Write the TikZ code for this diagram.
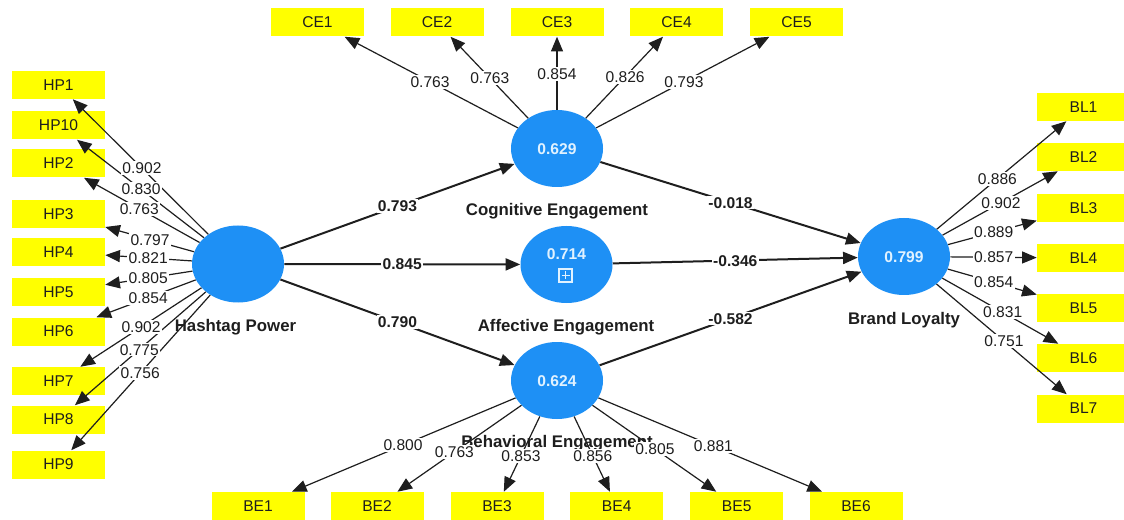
\documentclass[tikz,border=0pt]{standalone}
\usepackage{fontspec}
\setmainfont{Liberation Sans}
\usetikzlibrary{arrows.meta,shapes.geometric}
\definecolor{lvblue}{RGB}{30,144,245}
\definecolor{lvtext}{RGB}{225,242,255}
\definecolor{indyel}{RGB}{255,255,0}
\definecolor{txt}{RGB}{30,30,30}
\begin{document}
\begin{tikzpicture}[x=0.75pt,y=-0.75pt,
  lv/.style={ellipse, fill=lvblue, minimum width=69pt, minimum height=57.75pt, inner sep=0pt},
  lvval/.style={text=lvtext, inner sep=0pt, font=\fontsize{11.7}{14}\selectfont\bfseries, text height=8.4pt, text depth=0pt},
  ind/.style={rectangle, fill=indyel, minimum width=69.75pt, minimum height=21pt, inner sep=0pt, text=txt, font=\fontsize{11.7}{14}\selectfont},
  lvname/.style={font=\fontsize{12.6}{15}\selectfont\bfseries, text=txt, inner sep=0pt, text height=9pt, text depth=0pt},
  ldarrow/.style={draw=txt, line width=0.9pt, -{Triangle[length=11pt,width=9pt]}},
  sparrow/.style={draw=txt, line width=1.5pt, -{Triangle[length=11pt,width=9pt]}},
  wl/.style={fill=white, inner sep=1pt, text=txt, font=\fontsize{11.7}{14}\selectfont, text height=8.4pt, text depth=0pt},
  wp/.style={wl, font=\fontsize{11.7}{14}\selectfont\bfseries},
]
\useasboundingbox (0,0) rectangle (1124,520);
\fill[white] (0,0) rectangle (1124,520);

% latent variables
\node[lv] (hp) at (238,264) {};
\node[lv] (ce) at (557,148.5) {};
\node[lv] (ae) at (566.5,264.5) {};
\node[lv] (be) at (557,380.5) {};
\node[lv] (bl) at (904,256.5) {};
\node[lvval] (ceval) at (557,149) {0.629};
\node[lvval] (aeval) at (566.5,254) {0.714};
\node[lvval] (beval) at (557,381) {0.624};
\node[lvval] (blval) at (904,257) {0.799};
\draw[lvtext, line width=0.8pt] (559,269) rectangle (572,282);
\draw[lvtext, line width=0.8pt] (565.5,271.5) -- (565.5,279.5) (561.5,275.5) -- (569.5,275.5);

% latent names
\node[lvname] (hpname) at (235.5,325.7) {Hashtag Power};
\node[lvname] (blname) at (904,319) {Brand Loyalty};
\node[lvname] (cename) at (557,210) {Cognitive Engagement};
\node[lvname] (aename) at (566,325.5) {Affective Engagement};
\node[lvname] (bename) at (557,441) {Behavioral Engagement};

% indicators
\foreach \n/\y in {1/85,10/125.5,2/163.5,3/214,4/252,5/292,6/331.5,7/381,8/419.5,9/464.5}
  \node[ind] (hp\n) at (58.5,\y) {HP\n};
\foreach \n/\x in {1/317.5,2/437,3/557,4/676.5,5/796.5}
  \node[ind] (ce\n) at (\x,22.5) {CE\n};
\foreach \n/\x in {1/258,2/377,3/497,4/616.7,5/736.7,6/856}
  \node[ind] (be\n) at (\x,506) {BE\n};
\foreach \n/\y in {1/107,2/157,3/208,4/258,5/308,6/358,7/408.5}
  \node[ind] (bl\n) at (1083.5,\y) {BL\n};

% loadings lines
\foreach \n in {1,10,2,3,4,5,6,7,8,9} \draw[ldarrow] (hp) -- (hp\n);
\foreach \n in {1,...,5} \draw[ldarrow] (ce) -- (ce\n);
\foreach \n in {1,...,6} \draw[ldarrow] (be) -- (be\n);
\foreach \n in {1,...,7} \draw[ldarrow] (bl) -- (bl\n);

% structural paths
\draw[sparrow] (hp) -- (ce);
\draw[sparrow] (hp) -- (ae);
\draw[sparrow] (hp) -- (be);
\draw[sparrow] (ce) -- (bl);
\draw[sparrow] (ae) -- (bl);
\draw[sparrow] (be) -- (bl);

% loading labels
\foreach \n/\v/\p in {1/0.902/.535,10/0.830/.54,2/0.763/.55,3/0.797/.49,4/0.821/.5,5/0.805/.5,6/0.854/.5,7/0.902/.54,8/0.775/.55,9/0.756/.545}
  \path (hp.center) -- (hp\n.center) node[wl, pos=\p] (lhp\n) {\v};
\foreach \n/\v/\p in {1/0.763/.53,2/0.763/.56,3/0.854/.59,4/0.826/.57,5/0.793/.53}
  \path (ce.center) -- (ce\n.center) node[wl, pos=\p] (lce\n) {\v};
\foreach \n/\v/\p in {1/0.800/.515,2/0.763/.57,3/0.853/.6,4/0.856/.6,5/0.805/.545,6/0.881/.523}
  \path (be.center) -- (be\n.center) node[wl, pos=\p] (lbe\n) {\v};
\foreach \n/\v/\p in {1/0.886/.52,2/0.902/.54,3/0.889/.5,4/0.857/.5,5/0.854/.5,6/0.831/.55,7/0.751/.557}
  \path (bl.center) -- (bl\n.center) node[wl, pos=\p] (lbl\n) {\v};

% path labels
\path (hp.center) -- (ce.center) node[wp, pos=.5] (lhpce) {0.793};
\path (hp.center) -- (ae.center) node[wp, pos=.5] (lhpae) {0.845};
\path (hp.center) -- (be.center) node[wp, pos=.5] (lhpbe) {0.790};
\path (ce.center) -- (bl.center) node[wp, pos=.5] (lcebl) {-0.018};
\path (ae.center) -- (bl.center) node[wp, pos=.5] (laebl) {-0.346};
\path (be.center) -- (bl.center) node[wp, pos=.5] (lbebl) {-0.582};
\end{tikzpicture}
\end{document}
